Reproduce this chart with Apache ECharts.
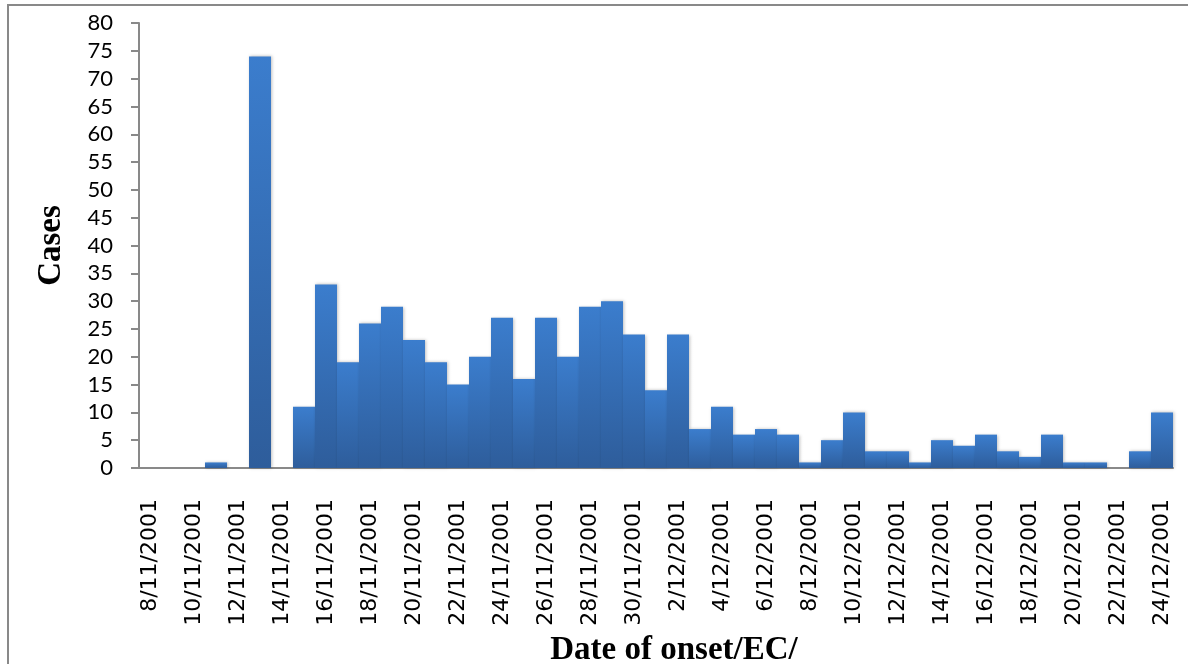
<!DOCTYPE html>
<html>
<head>
<meta charset="utf-8">
<script src="https://cdn.jsdelivr.net/npm/echarts@6/dist/echarts.min.js"></script>
<style>html,body{margin:0;padding:0;background:#fff}#c{width:1188px;height:664px}</style>
</head>
<body>
<div id="c"></div>
<script>
const dates = ["8/11/2001","9/11/2001","10/11/2001","11/11/2001","12/11/2001","13/11/2001","14/11/2001","15/11/2001","16/11/2001","17/11/2001","18/11/2001","19/11/2001","20/11/2001","21/11/2001","22/11/2001","23/11/2001","24/11/2001","25/11/2001","26/11/2001","27/11/2001","28/11/2001","29/11/2001","30/11/2001","1/12/2001","2/12/2001","3/12/2001","4/12/2001","5/12/2001","6/12/2001","7/12/2001","8/12/2001","9/12/2001","10/12/2001","11/12/2001","12/12/2001","13/12/2001","14/12/2001","15/12/2001","16/12/2001","17/12/2001","18/12/2001","19/12/2001","20/12/2001","21/12/2001","22/12/2001","23/12/2001","24/12/2001"];
const cases = [0,0,0,1,0,74,0,11,33,19,26,29,23,19,15,20,27,16,27,20,29,30,24,14,24,7,11,6,7,6,1,5,10,3,3,1,5,4,6,3,2,6,1,1,0,3,10];
const yTicks = {min:0, max:80, interval:5};

const chart = echarts.init(document.getElementById('c'));
chart.setOption({
  animation:false,
  backgroundColor:'#fff',
  graphic:[{type:'rect', shape:{x:8,y:5,width:1400,height:1000}, style:{fill:'none', stroke:'#898989', lineWidth:2}, silent:true}],
  grid:{left:139, right:15, top:23, bottom:196, containLabel:false, outerBoundsMode:'none'},
  xAxis:{
    type:'category', data:dates,
    axisLine:{lineStyle:{color:'#898989', width:2}},
    axisTick:{show:false},
    axisLabel:{interval:1, rotate:90, margin:31, fontFamily:'DejaVu Sans', fontSize:22, color:'#000'},
    name:'Date of onset/EC/', nameLocation:'middle', nameGap:156,
    nameTextStyle:{fontFamily:'Liberation Serif', fontWeight:'bold', fontSize:33, color:'#000', padding:[0,0,0,36]}
  },
  yAxis:{
    type:'value', min:yTicks.min, max:yTicks.max, interval:yTicks.interval,
    axisLine:{show:true, lineStyle:{color:'#898989', width:2}},
    axisTick:{show:true, length:8, lineStyle:{color:'#898989', width:2}},
    splitLine:{show:false},
    axisLabel:{margin:26, fontFamily:'Lato', fontSize:22, color:'#000'},
    name:'Cases', nameLocation:'middle', nameGap:71, nameRotate:90,
    nameTextStyle:{fontFamily:'Liberation Serif', fontWeight:'bold', fontSize:33, color:'#000'}
  },
  series:[{
    type:'bar', data:cases, barCategoryGap:'0%',
    itemStyle:{
      color:new echarts.graphic.LinearGradient(0,0,0,1,[{offset:0,color:'#3b7dcd'},{offset:1,color:'#2e5d9b'}]),
      shadowColor:'rgba(0,0,0,0.25)', shadowBlur:3, shadowOffsetX:1
    }
  }]
});
</script>
</body>
</html>
